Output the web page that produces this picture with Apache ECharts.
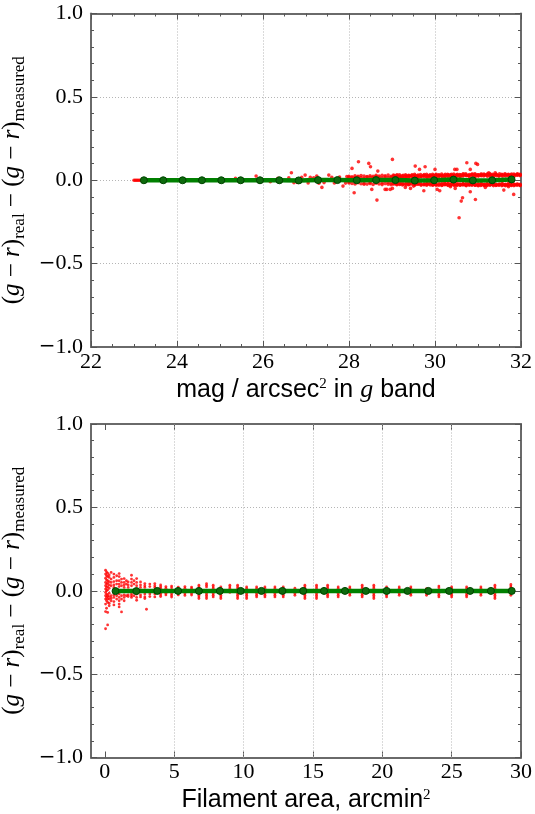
<!DOCTYPE html>
<html><head><meta charset="utf-8">
<script src="https://cdn.jsdelivr.net/npm/echarts@6/dist/echarts.min.js"></script>
<style>html,body{margin:0;padding:0;background:#fff}#c{width:535px;height:814px}</style>
</head><body><div id="c"></div>
<script>
// ---------- data ----------
// top panel: colour residual vs surface brightness
const topGreenX = [23.23,23.68,24.13,24.58,25.03,25.48,25.93,26.38,26.83,27.28,27.73,28.18,28.63,29.08,29.53,29.98,30.43,30.88,31.33,31.78];
const topGreenY = [0.000,0.000,0.000,0.000,0.000,0.000,0.000,0.000,-0.001,0.001,0.001,0.000,0.001,0.001,-0.002,0.000,0.004,-0.001,0.000,0.005];
// individual red points (start segment, sparse points, outliers)
const topRedPts = [
 [23.00,0],[23.03,0],[23.06,0],[23.09,0],[23.12,0],[23.15,0],[23.18,0],[23.21,0],
 [25.36,0.011],[25.84,0.025],[26.17,-0.009],[26.35,0.012],[26.60,0.014],[26.66,0.045],[26.72,-0.015],
 [26.80,-0.013],[26.90,0.018],[26.98,0.031],[27.05,-0.016],[27.10,0.017],[27.18,0.015],[27.25,0.025],
 [27.30,-0.018],[27.37,-0.043],[27.42,-0.014],[27.53,0.031],[27.60,0.017],[27.66,-0.016],[27.78,0.019],
 [27.86,-0.035],[27.92,-0.017],[27.95,0.022],
 [28.07,0.071],[28.12,-0.075],[28.22,0.111],[28.46,0.101],[28.50,0.081],[28.67,0.055],[28.65,-0.119],
 [28.53,-0.055],[28.84,-0.055],[28.88,-0.055],[28.96,-0.055],[29.01,0.125],[29.01,-0.049],[29.31,-0.043],
 [29.43,-0.049],[29.50,-0.035],[29.54,0.085],[29.64,0.065],[29.74,-0.063],[29.77,0.081],[30.00,0.065],
 [30.05,-0.055],[30.11,-0.063],[30.36,-0.039],[30.47,-0.049],[30.46,0.065],[30.51,0.065],[30.74,0.105],
 [30.82,0.065],[30.82,-0.069],[30.95,0.101],[30.99,0.095],[30.64,-0.105],[30.61,-0.125],[30.56,-0.225],
 [30.94,-0.115],[31.17,-0.043],[31.25,0.045],[31.40,0.045],[31.60,-0.059],[31.71,-0.039],[31.83,-0.085]
];
// dense band: [x, y1, y2, ...]
const topBandCols = [
 [28.00,0.018,-0.016,0.024,-0.010],[28.07,0.021,-0.019,0.014],[28.14,0.016,-0.022,0.026,0.004],
 [28.21,0.023,-0.015,0.019],[28.28,0.015,-0.021,0.028],[28.35,0.025,-0.017,0.012,-0.024],
 [28.42,0.019,-0.023,0.022],[28.49,0.027,-0.014,0.017,-0.020],[28.56,0.016,-0.025,0.024],
 [28.63,0.022,-0.018,0.030,-0.012],[28.70,0.018,-0.022,0.025],[28.77,0.029,-0.016,0.013,-0.026],
 [28.84,0.021,-0.020,0.026],[28.91,0.016,-0.024,0.031,-0.014],[28.98,0.024,-0.018,0.019,-0.027],
 [29.05,0.027,-0.021,0.015],[29.12,0.020,-0.026,0.032,-0.016],[29.19,0.025,-0.019,0.018,-0.023],
 [29.26,0.030,-0.024,0.014],[29.33,0.017,-0.028,0.026,-0.015],[29.40,0.028,-0.020,0.022,-0.025],
 [29.47,0.023,-0.017,0.033],[29.54,0.019,-0.027,0.029,-0.021],[29.61,0.031,-0.023,0.016,-0.018],
 [29.68,0.025,-0.029,0.021],[29.75,0.020,-0.021,0.034,-0.026],[29.82,0.028,-0.025,0.017,-0.019],
 [29.89,0.033,-0.018,0.024,-0.028],[29.96,0.022,-0.027,0.030,-0.021],[30.03,0.035,-0.024,0.019,-0.030],
 [30.10,0.026,-0.020,0.031,-0.027],[30.17,0.030,-0.029,0.022,-0.018],[30.24,0.024,-0.025,0.036,-0.022],
 [30.31,0.033,-0.031,0.020,-0.019],[30.38,0.027,-0.022,0.035,-0.028],[30.45,0.031,-0.026,0.022,-0.032],
 [30.52,0.036,-0.020,0.025,-0.027],[30.59,0.023,-0.029,0.033,-0.024],[30.66,0.038,-0.025,0.028,-0.021],
 [30.73,0.027,-0.032,0.032,-0.018],[30.80,0.034,-0.023,0.024,-0.029],[30.87,0.029,-0.027,0.037,-0.021],
 [30.94,0.035,-0.030,0.023,-0.025],[31.01,0.025,-0.022,0.032,-0.033],[31.08,0.037,-0.028,0.027,-0.020],
 [31.15,0.030,-0.025,0.034,-0.031],[31.22,0.024,-0.029,0.038,-0.022],[31.29,0.036,-0.021,0.028,-0.027],
 [31.36,0.031,-0.032,0.025,-0.024],[31.43,0.027,-0.026,0.035,-0.030],[31.50,0.038,-0.023,0.029,-0.028],
 [31.57,0.032,-0.030,0.024,-0.021],[31.64,0.026,-0.025,0.036,-0.033],[31.71,0.035,-0.028,0.030,-0.022],
 [31.78,0.029,-0.031,0.037,-0.026],[31.85,0.033,-0.024,0.026,-0.029],[31.92,0.038,-0.027,0.031,-0.023],
 [31.98,0.030,-0.032,0.035,-0.025]
];
const topBandCols2 = [
 [29.035,0.024,-0.022,0.031],[29.105,0.029,-0.018,0.020,-0.026],[29.175,0.021,-0.025,0.033],
 [29.245,0.027,-0.020,0.018,-0.028],[29.315,0.032,-0.023,0.022],[29.385,0.019,-0.027,0.029,-0.017],
 [29.455,0.030,-0.022,0.024],[29.525,0.026,-0.029,0.035,-0.019],[29.595,0.021,-0.024,0.028],
 [29.665,0.034,-0.019,0.024,-0.027],[29.735,0.027,-0.026,0.030],[29.805,0.023,-0.030,0.036,-0.021],
 [29.875,0.029,-0.023,0.020],[29.945,0.035,-0.026,0.025,-0.030],[30.015,0.028,-0.021,0.032,-0.027],
 [30.085,0.033,-0.030,0.022],[30.155,0.025,-0.024,0.037,-0.031],[30.225,0.031,-0.027,0.021,-0.020],
 [30.295,0.036,-0.022,0.027,-0.029],[30.365,0.024,-0.030,0.032,-0.025],[30.435,0.037,-0.025,0.028,-0.021],
 [30.505,0.029,-0.031,0.033,-0.026],[30.575,0.034,-0.023,0.024,-0.030],[30.645,0.026,-0.028,0.036,-0.022],
 [30.715,0.038,-0.026,0.030,-0.031],[30.785,0.030,-0.021,0.025,-0.027],[30.855,0.035,-0.030,0.033,-0.024],
 [30.925,0.027,-0.027,0.038,-0.029],[30.995,0.033,-0.024,0.029,-0.031],[31.065,0.029,-0.031,0.036,-0.023],
 [31.135,0.037,-0.026,0.026,-0.029],[31.205,0.031,-0.022,0.033,-0.032],[31.275,0.026,-0.030,0.038,-0.025],
 [31.345,0.035,-0.027,0.029,-0.021],[31.415,0.032,-0.024,0.036,-0.031],[31.485,0.028,-0.029,0.025,-0.026],
 [31.555,0.036,-0.032,0.031,-0.022],[31.625,0.030,-0.026,0.038,-0.028],[31.695,0.034,-0.023,0.027,-0.031],
 [31.765,0.027,-0.029,0.033,-0.025],[31.835,0.037,-0.025,0.030,-0.032],[31.905,0.031,-0.030,0.036,-0.024],
 [31.975,0.034,-0.027,0.028,-0.030]
];

// bottom panel: colour residual vs filament area
const botGreenX = [0.77,2.27,3.78,5.28,6.78,8.29,9.79,11.29,12.80,14.30,15.80,17.31,18.81,20.31,21.82,23.32,24.82,26.33,27.83,29.33];
const botGreenY = [-0.002,-0.002,-0.001,-0.001,-0.001,-0.001,-0.001,-0.001,-0.001,-0.001,-0.001,-0.001,-0.001,-0.001,-0.001,-0.001,-0.001,-0.001,-0.001,-0.001];
// red points grouped by area value: [x, y1, y2, ...]
const botRedCols = [
 [0.05,0.123,0.100,0.075,0.050,0.030,0.010,-0.010,-0.030,-0.050,-0.080,-0.125,-0.228],
 [0.12,0.113,0.090,0.065,0.040,0.020,0.000,-0.020,-0.040,-0.060,-0.105],
 [0.20,0.105,0.085,0.060,0.045,0.025,0.005,-0.025,-0.035,-0.050,-0.070,-0.130,-0.205],
 [0.31,0.095,0.080,0.055,0.035,0.015,-0.015,-0.035,-0.050,-0.075,-0.090],
 [0.45,0.110,0.070,0.050,0.030,-0.030,-0.045,-0.060],
 [0.65,0.100,0.080,0.055,0.035,0.020,-0.025,-0.040,-0.065,-0.085],
 [0.85,0.090,0.060,0.040,-0.030,-0.050],
 [1.03,0.103,0.085,0.060,0.040,0.025,-0.020,-0.040,-0.060,-0.080,-0.097],
 [1.20,0.070,0.050,0.030,-0.030,-0.050,-0.127],
 [1.39,0.073,0.050,0.035,0.020,-0.025,-0.040,-0.060],
 [1.55,0.060,0.040,-0.030],
 [1.68,0.053,0.035,0.020,-0.025,-0.035],
 [1.92,0.093,0.070,0.050,0.030,-0.020,-0.030,-0.040],
 [2.10,0.060,0.040,-0.030],
 [2.29,0.073,0.050,0.030,-0.020,-0.040,-0.057],
 [2.57,0.053,0.035,0.020,-0.025,-0.037],
 [2.88,0.043,0.030,0.020,-0.020,-0.037,-0.047],
 [3.00,-0.111],
 [3.24,0.040,0.025,-0.020,-0.035],
 [3.60,0.043,0.030,0.020,-0.020,-0.037],
 [4.02,0.035,0.025,0.015,-0.015,-0.025,-0.035],
 [4.40,0.025,0.015,-0.015,-0.025],
 [4.81,0.028,0.018,-0.018,-0.028,-0.038],
 [5.29,0.022,0.012,-0.015,-0.025],
 [5.77,0.025,0.015,-0.018,-0.028],
 [6.25,0.022,0.014,-0.016,-0.026],
 [6.78,0.033,0.023,0.013,-0.017,-0.027,-0.037,-0.047],
 [7.33,0.043,0.033,0.023,-0.017,-0.027,-0.037,-0.047],
 [7.81,0.033,0.023,0.013,-0.017,-0.027,-0.037],
 [8.36,0.023,0.013,-0.017,-0.027,-0.037,-0.047],
 [9.01,0.033,0.023,0.013,-0.010],
 [9.57,0.033,0.023,0.013,-0.017,-0.027,-0.037,-0.047],
 [10.22,0.023,0.013,-0.017,-0.027,-0.037,-0.047],
 [10.94,0.023,0.013,-0.017,-0.027,-0.037],
 [11.54,0.023,0.013,-0.017,-0.027,-0.037],
 [12.26,0.023,0.013,-0.017,-0.027,-0.037],
 [12.86,0.023,0.013,-0.017,-0.027,-0.037],
 [13.70,0.015,-0.017,-0.027],
 [14.42,0.033,0.023,0.013,-0.017,-0.027,-0.037,-0.047],
 [15.26,0.033,0.023,0.013,-0.017,-0.027,-0.037,-0.047],
 [16.06,0.033,0.023,0.013,-0.017,-0.027,-0.037],
 [16.82,0.023,0.013,-0.017,-0.027,-0.037],
 [17.66,0.023,0.013,-0.017,-0.027],
 [18.55,0.033,0.023,0.013,-0.017,-0.027,-0.037],
 [19.39,0.033,0.023,0.013,-0.017,-0.027,-0.037,-0.047],
 [20.31,0.023,0.013,-0.017,-0.027,-0.037],
 [21.22,0.023,0.013,-0.017,-0.027],
 [22.06,0.023,0.013,-0.017,-0.027],
 [23.19,0.013,-0.017,-0.027],
 [24.08,0.028,0.018,-0.017,-0.027,-0.037],
 [25.00,0.023,0.013,-0.017,-0.027,-0.037],
 [26.08,0.023,0.013,-0.017,-0.027,-0.037],
 [27.11,0.023,0.013,-0.017,-0.027],
 [28.12,0.033,0.023,0.013,-0.017,-0.027,-0.037,-0.047],
 [29.27,0.038,0.028,0.018,-0.017,-0.027]
];

// axes and tick labels
const topXRange = [22, 32], topXStep = 2;
const botXRange = [-1, 30];
const botXTicks = [0, 5, 10, 15, 20, 25, 30];
const yRange = [-1, 1], yStep = 0.5;

// ---------- build ----------
function expandCols(cols){ const out=[]; cols.forEach(c=>{ for(let i=1;i<c.length;i++) out.push([c[0],c[i]]); }); return out; }
const topRed = topRedPts.concat(expandCols(topBandCols), expandCols(topBandCols2));
const botRed = expandCols(botRedCols);
const zip = (a,b)=>a.map((v,i)=>[v,b[i]]);

const SERIF = '"Liberation Serif","DejaVu Serif",serif';
const SANS = '"Liberation Sans",Arial,sans-serif';
const frame = {show:true, onZero:false, lineStyle:{color:'#6a6a6a', width:2}};
const gridStyle = {color:'#b5b5b5', width:1, type:[1,2]};
const grid = {show:true, lineStyle:gridStyle};
const tick = {show:true, inside:true, length:6, lineStyle:{color:'#555', width:1}};
const mtick = (n)=>({show:n>0, splitNumber:n||1, length:3, lineStyle:{color:'#555', width:1}});
const yFmt = v => (v<0?'{m|\u2212}':'') + Math.abs(v).toFixed(1);
const labelRich = {m:{fontFamily:'"DejaVu Serif",serif', fontSize:20, color:'#000'}};
const nameStyleX = {fontFamily:SANS, fontSize:25, color:'#000',
  rich:{ sup:{fontFamily:SERIF, fontSize:15, verticalAlign:'top', lineHeight:15},
         it:{fontFamily:SERIF, fontStyle:'italic', fontSize:26} }};

const yName = '({i|g} \u2212 {i|r}){s|real} \u2212 ({i|g} \u2212 {i|r}){s|measured}';
const yNameStyle = {fontFamily:SERIF, fontSize:25, color:'#000', lineHeight:30,
  rich:{ i:{fontFamily:SERIF, fontStyle:'italic', fontSize:25, lineHeight:30},
         s:{fontFamily:SERIF, fontSize:17, verticalAlign:'bottom', lineHeight:17} }};

function topX(pos, labels){
  return {type:'value', gridIndex:0, position:pos, min:topXRange[0], max:topXRange[1], interval:topXStep,
    axisLine:frame, axisTick:tick, minorTick:mtick(4),
    splitLine: pos==='bottom'? grid : {show:false},
    axisLabel: labels? {show:true, fontFamily:SERIF, fontSize:22, color:'#000', margin:4} : {show:false},
    name: labels? 'mag / arcsec{sup|2} in {it|g} band' : '', nameLocation:'middle', nameGap:30, nameTextStyle:nameStyleX};
}
function botX(pos, labels){
  return {type:'value', gridIndex:1, position:pos, min:botXRange[0], max:botXRange[1], interval:1,
    axisLine:frame,
    axisTick:Object.assign({}, tick, {customValues:botXTicks}),
    minorTick:{show:false},
    splitLine:{show:false},
    axisLabel: labels? {show:true, fontFamily:SERIF, fontSize:22, color:'#000', margin:4, customValues:botXTicks} : {show:false},
    name: labels? 'Filament area, arcmin{sup|2}' : '', nameLocation:'middle', nameGap:30, nameTextStyle:nameStyleX};
}
function yAx(gi, pos, labels){
  return {type:'value', gridIndex:gi, position:pos, min:yRange[0], max:yRange[1], interval:yStep,
    axisLine:frame, axisTick:tick, minorTick:mtick(5),
    splitLine: pos==='left'? grid : {show:false},
    axisLabel: labels? {show:true, fontFamily:SERIF, fontSize:22, color:'#000', margin:8, formatter:yFmt, rich:labelRich} : {show:false},
    name: labels? yName : '', nameLocation:'middle', nameGap:52, nameRotate:90, nameTextStyle:yNameStyle};
}

const markerStyle = {color:'#0d6a0d', borderColor:'#004400', borderWidth:1};
const chart = echarts.init(document.getElementById('c'), null, {renderer:'canvas'});
chart.setOption({
  animation:false,
  backgroundColor:'#fff',
  grid:[{left:91, top:13.5, width:430, height:333.5, containLabel:false, outerBoundsMode:'none'},
        {left:91, top:424, width:430, height:333.5, containLabel:false, outerBoundsMode:'none'}],
  xAxis:[ topX('bottom', true), topX('top', false), botX('bottom', true), botX('top', false) ],
  yAxis:[ yAx(0,'left',true), yAx(0,'right',false), yAx(1,'left',true), yAx(1,'right',false) ],
  series:[
    {type:'scatter', xAxisIndex:0, yAxisIndex:0, data:topRed, symbol:'circle', symbolSize:3.6,
     itemStyle:{color:'#ff0000'}, silent:true, z:2},
    {type:'line', xAxisIndex:0, yAxisIndex:0, data:zip(topGreenX, topGreenY), symbol:'circle', symbolSize:7,
     showSymbol:true, lineStyle:{color:'#008000', width:4.5}, itemStyle:markerStyle, z:3, silent:true},
    {type:'scatter', xAxisIndex:2, yAxisIndex:2, data:botRed, symbol:'circle', symbolSize:2.8,
     itemStyle:{color:'#ff0000'}, silent:true, z:2,
     markLine:{silent:true, symbol:'none', label:{show:false}, lineStyle:gridStyle, z:1,
       data: botXTicks.slice(1, -1).map(v => ({xAxis:v}))}},
    {type:'line', xAxisIndex:2, yAxisIndex:2, data:zip(botGreenX, botGreenY), symbol:'circle', symbolSize:7,
     showSymbol:true, lineStyle:{color:'#008000', width:4.5}, itemStyle:markerStyle, z:3, silent:true}
  ]
});
</script></body></html>
